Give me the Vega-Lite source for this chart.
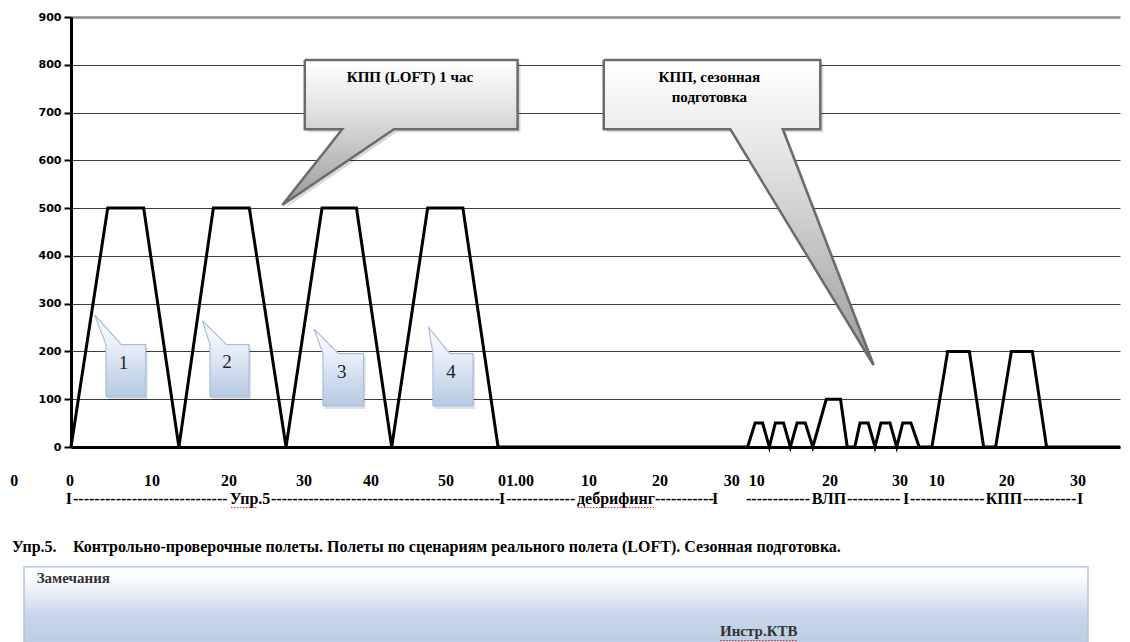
{
  "$schema": "https://vega.github.io/schema/vega-lite/v6.json",
  "width": 1049,
  "height": 430,
  "autosize": {"type": "none"},
  "padding": {"left": 71, "top": 17, "right": 10, "bottom": 195},
  "background": "white",
  "config": {"view": {"stroke": null}},
  "datasets": {
    "flight": [
      {"t": 0, "v": 0}, {"t": 4.9, "v": 500}, {"t": 9.7, "v": 500}, {"t": 14.4, "v": 0},
      {"t": 19.0, "v": 500}, {"t": 23.8, "v": 500}, {"t": 28.7, "v": 0},
      {"t": 33.5, "v": 500}, {"t": 38.1, "v": 500}, {"t": 42.8, "v": 0},
      {"t": 47.6, "v": 500}, {"t": 52.3, "v": 500}, {"t": 57.0, "v": 0},
      {"t": 90.3, "v": 0}, {"t": 91.3, "v": 50}, {"t": 92.3, "v": 50}, {"t": 93.2, "v": 0},
      {"t": 94.0, "v": 50}, {"t": 95.1, "v": 50}, {"t": 96.0, "v": 0},
      {"t": 96.9, "v": 50}, {"t": 98.0, "v": 50}, {"t": 99.0, "v": 0},
      {"t": 100.8, "v": 100}, {"t": 102.7, "v": 100}, {"t": 103.6, "v": 0}, {"t": 104.6, "v": 0},
      {"t": 105.3, "v": 50}, {"t": 106.4, "v": 50}, {"t": 107.3, "v": 0},
      {"t": 108.1, "v": 50}, {"t": 109.3, "v": 50}, {"t": 110.2, "v": 0},
      {"t": 111.0, "v": 50}, {"t": 112.1, "v": 50}, {"t": 113.2, "v": 0}, {"t": 114.9, "v": 0},
      {"t": 117.0, "v": 200}, {"t": 119.9, "v": 200}, {"t": 121.8, "v": 0}, {"t": 123.4, "v": 0},
      {"t": 125.5, "v": 200}, {"t": 128.3, "v": 200}, {"t": 130.2, "v": 0}, {"t": 140, "v": 0}
    ],
    "callouts": [
      {"id": "c1", "o": 1, "t": 31.2, "v": 810}, {"id": "c1", "o": 2, "t": 59.6, "v": 810},
      {"id": "c1", "o": 3, "t": 59.6, "v": 665}, {"id": "c1", "o": 4, "t": 43.1, "v": 665},
      {"id": "c1", "o": 5, "t": 28.2, "v": 506.5}, {"id": "c1", "o": 6, "t": 36.2, "v": 665},
      {"id": "c1", "o": 7, "t": 31.2, "v": 665}, {"id": "c1", "o": 8, "t": 31.2, "v": 810},
      {"id": "c2", "o": 1, "t": 71.1, "v": 810}, {"id": "c2", "o": 2, "t": 100.0, "v": 810},
      {"id": "c2", "o": 3, "t": 100.0, "v": 665}, {"id": "c2", "o": 4, "t": 95.0, "v": 665},
      {"id": "c2", "o": 5, "t": 107.1, "v": 171.6}, {"id": "c2", "o": 6, "t": 88.0, "v": 665},
      {"id": "c2", "o": 7, "t": 71.1, "v": 665}, {"id": "c2", "o": 8, "t": 71.1, "v": 810}
    ],
    "ctext": [
      {"t": 45.24, "v": 773.4, "label": "КПП (LOFT) 1 час"},
      {"t": 85.2, "v": 773.4, "label": "КПП, сезонная"},
      {"t": 85.2, "v": 732.5, "label": "подготовка"}
    ],
    "tags": [
      {"id": "b1", "o": 1, "t": 4.67, "v": 214.3}, {"id": "b1", "o": 2, "t": 3.15, "v": 276.3},
      {"id": "b1", "o": 3, "t": 6.73, "v": 214.3}, {"id": "b1", "o": 4, "t": 9.97, "v": 214.3},
      {"id": "b1", "o": 5, "t": 9.97, "v": 104.7}, {"id": "b1", "o": 6, "t": 4.67, "v": 104.7},
      {"id": "b1", "o": 7, "t": 4.67, "v": 214.3},
      {"id": "b2", "o": 1, "t": 18.55, "v": 214.3}, {"id": "b2", "o": 2, "t": 17.55, "v": 264.3},
      {"id": "b2", "o": 3, "t": 20.79, "v": 214.3}, {"id": "b2", "o": 4, "t": 23.76, "v": 214.3},
      {"id": "b2", "o": 5, "t": 23.76, "v": 104.7}, {"id": "b2", "o": 6, "t": 18.55, "v": 104.7},
      {"id": "b2", "o": 7, "t": 18.55, "v": 214.3},
      {"id": "b3", "o": 1, "t": 33.63, "v": 195.5}, {"id": "b3", "o": 2, "t": 32.43, "v": 247.0},
      {"id": "b3", "o": 3, "t": 35.71, "v": 195.5}, {"id": "b3", "o": 4, "t": 39.05, "v": 195.5},
      {"id": "b3", "o": 5, "t": 39.05, "v": 85.8}, {"id": "b3", "o": 6, "t": 33.63, "v": 85.8},
      {"id": "b3", "o": 7, "t": 33.63, "v": 195.5},
      {"id": "b4", "o": 1, "t": 48.31, "v": 195.5}, {"id": "b4", "o": 2, "t": 47.73, "v": 250.1},
      {"id": "b4", "o": 3, "t": 50.58, "v": 195.5}, {"id": "b4", "o": 4, "t": 53.65, "v": 195.5},
      {"id": "b4", "o": 5, "t": 53.65, "v": 85.8}, {"id": "b4", "o": 6, "t": 48.31, "v": 85.8},
      {"id": "b4", "o": 7, "t": 48.31, "v": 195.5}
    ],
    "tagtext": [
      {"t": 7.02, "v": 175.8, "label": "1"}, {"t": 20.82, "v": 176.9, "label": "2"},
      {"t": 36.14, "v": 157, "label": "3"}, {"t": 50.71, "v": 157, "label": "4"}
    ],
    "row1": [
      {"t": -7.57, "v": -71.2, "label": "0"}, {"t": -0.13, "v": -71.2, "label": "0"},
      {"t": 10.81, "v": -71.2, "label": "10"}, {"t": 21.09, "v": -71.2, "label": "20"},
      {"t": 31.10, "v": -71.2, "label": "30"}, {"t": 40.04, "v": -71.2, "label": "40"},
      {"t": 50.05, "v": -71.2, "label": "50"}, {"t": 59.39, "v": -71.2, "label": "01.00"},
      {"t": 69.13, "v": -71.2, "label": "10"}, {"t": 78.61, "v": -71.2, "label": "20"},
      {"t": 88.18, "v": -71.2, "label": "30"}, {"t": 91.51, "v": -71.2, "label": "10"},
      {"t": 101.29, "v": -71.2, "label": "20"}, {"t": 110.64, "v": -71.2, "label": "30"},
      {"t": 115.53, "v": -71.2, "label": "10"}, {"t": 124.88, "v": -71.2, "label": "20"},
      {"t": 134.39, "v": -71.2, "label": "30"}
    ],
    "row2c": [
      {"t": -0.27, "v": -108.8, "label": "I"}, {"t": 23.89, "v": -108.8, "label": "Упр.5"},
      {"t": 57.52, "v": -108.8, "label": "I"}, {"t": 72.74, "v": -108.8, "label": "дебрифинг"},
      {"t": 85.95, "v": -108.8, "label": "I"}, {"t": 101.16, "v": -108.8, "label": "ВЛП"},
      {"t": 111.44, "v": -108.8, "label": "I"}, {"t": 124.52, "v": -108.8, "label": "КПП"},
      {"t": 134.66, "v": -108.8, "label": "I"}
    ],
    "row2d": [
      {"t": 0.27, "v": -108.8, "label": "-----------------------------"},
      {"t": 26.69, "v": -108.8, "label": "-------------------------------------------"},
      {"t": 58.05, "v": -108.8, "label": "-------------"},
      {"t": 77.94, "v": -108.8, "label": "-----------"},
      {"t": 90.09, "v": -108.8, "label": "------------"},
      {"t": 103.57, "v": -108.8, "label": "----------"},
      {"t": 111.97, "v": -108.8, "label": "--------------"},
      {"t": 127.05, "v": -108.8, "label": "----------"}
    ],
    "title": [
      {"t": -7.87, "v": -208.7, "label": "Упр.5."},
      {"t": 0.27, "v": -208.7, "label": "Контрольно-проверочные  полеты. Полеты по сценариям реального полета (LOFT). Сезонная подготовка."}
    ],
    "box": [
      {"t": -6.27, "t2": 135.73, "v": -250.5, "v2": -420}
    ],
    "boxtext": [
      {"t": -4.58, "v": -274, "label": "Замечания"},
      {"t": 86.62, "v": -385, "label": "Инстр.КТВ"}
    ],
    "squig": [
      {"t": 21.35, "t2": 24.9, "v": -126.5},
      {"t": 67.66, "t2": 77.81, "v": -126.5},
      {"t": 86.62, "t2": 96.9, "v": -405}
    ]
  },
  "encoding": {
    "x": {
      "field": "t", "type": "quantitative",
      "scale": {"domain": [0, 140], "nice": false, "zero": false},
      "axis": {"labels": false, "ticks": false, "grid": false, "domain": true, "domainColor": "black", "domainWidth": 3, "title": null}
    },
    "y": {
      "field": "v", "type": "quantitative",
      "scale": {"domain": [0, 900], "nice": false, "zero": false},
      "axis": {
        "values": [0, 100, 200, 300, 400, 500, 600, 700, 800, 900],
        "grid": true,
        "gridColor": {"condition": {"test": "datum.value === 900", "value": "#8c8c8c"}, "value": "#3c3c3c"},
        "gridWidth": {"condition": {"test": "datum.value === 900", "value": 2.5}, "value": 1},
        "domainColor": "black", "domainWidth": 3,
        "tickColor": "black", "tickWidth": 2, "tickSize": 7,
        "labelFont": "DejaVu Sans", "labelFontWeight": "bold", "labelFontSize": 11,
        "labelColor": "black", "labelPadding": 3, "title": null
      }
    }
  },
  "layer": [
    {
      "data": {"name": "flight"},
      "mark": {"type": "line", "stroke": "black", "strokeWidth": 3, "strokeJoin": "miter"}
    },
    {
      "data": {"name": "callouts"},
      "mark": {"type": "line", "fill": "#000000", "fillOpacity": 0.15, "strokeOpacity": 0, "xOffset": 3, "yOffset": 3},
      "encoding": {"detail": {"field": "id"}, "order": {"field": "o", "type": "quantitative"}}
    },
    {
      "data": {"name": "callouts"},
      "mark": {
        "type": "line",
        "fill": {"gradient": "linear", "x1": 0, "y1": 0, "x2": 0, "y2": 1,
          "stops": [{"offset": 0, "color": "#ffffff"}, {"offset": 0.3, "color": "#e6e6e6"}, {"offset": 1, "color": "#9a9a9a"}]},
        "stroke": "#6b6b6b", "strokeWidth": 2.5, "strokeJoin": "miter"
      },
      "encoding": {"detail": {"field": "id"}, "order": {"field": "o", "type": "quantitative"}}
    },
    {
      "data": {"name": "ctext"},
      "mark": {"type": "text", "font": "Liberation Serif, serif", "fontWeight": "bold", "fontSize": 15, "align": "center", "baseline": "middle", "color": "black"},
      "encoding": {"text": {"field": "label"}}
    },
    {
      "data": {"name": "tags"},
      "mark": {"type": "line", "fill": "#000000", "fillOpacity": 0.12, "strokeOpacity": 0, "xOffset": 2, "yOffset": 3},
      "encoding": {"detail": {"field": "id"}, "order": {"field": "o", "type": "quantitative"}}
    },
    {
      "data": {"name": "tags"},
      "mark": {
        "type": "line",
        "fill": {"gradient": "linear", "x1": 0, "y1": 0, "x2": 0, "y2": 1,
          "stops": [{"offset": 0, "color": "#ffffff"}, {"offset": 0.36, "color": "#e8eef8"}, {"offset": 1, "color": "#b5c9e3"}]},
        "stroke": "#a9bedb", "strokeWidth": 1.2, "strokeJoin": "miter"
      },
      "encoding": {"detail": {"field": "id"}, "order": {"field": "o", "type": "quantitative"}}
    },
    {
      "data": {"name": "tagtext"},
      "mark": {"type": "text", "font": "Liberation Serif, serif", "fontSize": 19, "align": "center", "baseline": "middle", "color": "#1e1e1e"},
      "encoding": {"text": {"field": "label"}}
    },
    {
      "data": {"name": "row1"},
      "mark": {"type": "text", "font": "Liberation Serif, serif", "fontWeight": "bold", "fontSize": 16, "align": "center", "baseline": "middle", "color": "black"},
      "encoding": {"text": {"field": "label"}}
    },
    {
      "data": {"name": "row2c"},
      "mark": {"type": "text", "font": "Liberation Serif, serif", "fontWeight": "bold", "fontSize": 16, "align": "center", "baseline": "middle", "color": "black"},
      "encoding": {"text": {"field": "label"}}
    },
    {
      "data": {"name": "row2d"},
      "mark": {"type": "text", "font": "Liberation Serif, serif", "fontWeight": "bold", "fontSize": 16, "align": "left", "baseline": "middle", "color": "black"},
      "encoding": {"text": {"field": "label"}}
    },
    {
      "data": {"name": "title"},
      "mark": {"type": "text", "font": "Liberation Serif, serif", "fontWeight": "bold", "fontSize": 16, "align": "left", "baseline": "middle", "color": "black"},
      "encoding": {"text": {"field": "label"}}
    },
    {
      "data": {"name": "box"},
      "mark": {
        "type": "rect",
        "fill": {"gradient": "linear", "x1": 0, "y1": 0, "x2": 0, "y2": 1,
          "stops": [{"offset": 0, "color": "#ffffff"}, {"offset": 0.15, "color": "#fbfcfd"}, {"offset": 0.6, "color": "#c9d7ea"}, {"offset": 1, "color": "#b9cbe3"}]},
        "stroke": "#b2c5df", "strokeWidth": 1.5
      },
      "encoding": {"x2": {"field": "t2"}, "y2": {"field": "v2"}}
    },
    {
      "data": {"name": "boxtext"},
      "mark": {"type": "text", "font": "Liberation Serif, serif", "fontWeight": "bold", "fontSize": 15, "align": "left", "baseline": "middle", "color": "#333333"},
      "encoding": {"text": {"field": "label"}}
    },
    {
      "data": {"name": "squig"},
      "mark": {"type": "rule", "stroke": "#e02020", "strokeWidth": 1, "strokeDash": [1.5, 1.5]},
      "encoding": {"x2": {"field": "t2"}}
    }
  ]
}
